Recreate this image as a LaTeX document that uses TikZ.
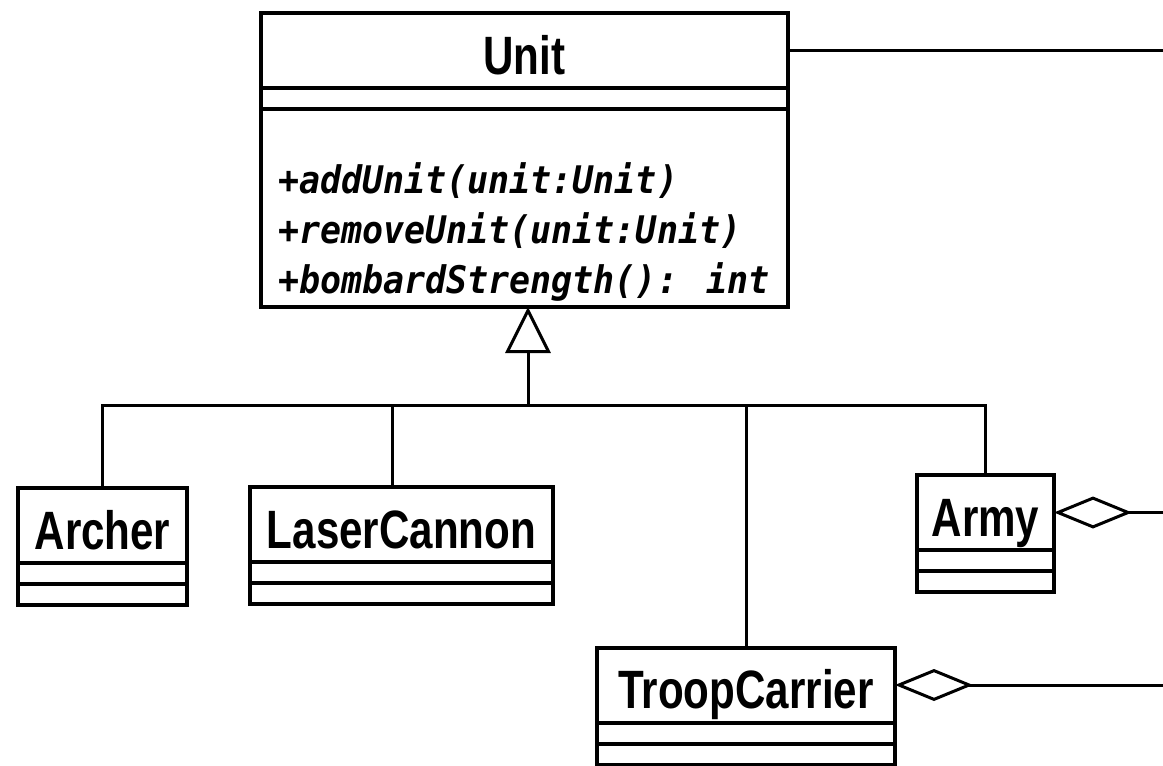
\documentclass[tikz,border=0pt]{standalone}
\usepackage{fontspec}
\usepackage{tikz}
\usetikzlibrary{arrows.meta, positioning}
\newfontfamily\classfont[FakeStretch=0.78]{Liberation Sans}
\newfontfamily\methodfont[FakeStretch=0.92]{DejaVu Sans Mono}
\tikzset{
  classname/.style={rectangle, draw=black, line width=4pt, minimum height=75pt, inner sep=0pt, outer sep=0pt, text height=47pt, text depth=0pt, font=\classfont\bfseries\fontsize{54}{60}\selectfont},
  slot/.style={rectangle, draw=black, line width=4pt, minimum height=21pt, inner sep=0pt, outer sep=0pt},
  ops/.style={inner sep=0pt, anchor=south west, align=left, font=\methodfont\bfseries\itshape\fontsize{38}{50}\selectfont},
  link/.style={line width=3pt},
  inherit/.style={line width=3pt, -{Triangle[open, length=46pt, width=45pt]}},
  aggregate/.style={line width=3pt, -{Diamond[open, length=78pt, width=32pt]}}
}

\begin{document}
\begin{tikzpicture}[x=1pt, y=-1pt]
  \useasboundingbox (0,0) rectangle (1163,766);
  % superclass
  \node[classname, minimum width=527pt] (unit) at (524.5,50.5) {Unit};
  \node[slot, minimum width=527pt, below=0pt of unit] (unitattr) {};
  \node[slot, minimum width=527pt, minimum height=198pt, below=0pt of unitattr] (unitops) {};
  \node[ops] (unitopstext) at (278,302) {+addUnit(unit:Unit)\\+removeUnit(unit:Unit)\\+bombardStrength(): int};
  % subclasses
  \node[classname, minimum width=169pt] (archer) at (102.5,525.5) {Archer};
  \node[slot, minimum width=169pt, below=0pt of archer] (archerattr) {};
  \node[slot, minimum width=169pt, below=0pt of archerattr] (archerops) {};
  \node[classname, minimum width=303pt] (laser) at (401.5,524.5) {LaserCannon};
  \node[slot, minimum width=303pt, below=0pt of laser] (laserattr) {};
  \node[slot, minimum width=303pt, below=0pt of laserattr] (laserops) {};
  \node[classname, minimum width=137pt] (army) at (985.5,512.5) {Army};
  \node[slot, minimum width=137pt, below=0pt of army] (armyattr) {};
  \node[slot, minimum width=137pt, below=0pt of armyattr] (armyops) {};
  \node[classname, minimum width=298pt] (troop) at (746,685) {TroopCarrier};
  \node[slot, minimum width=298pt, below=0pt of troop] (troopattr) {};
  \node[slot, minimum width=298pt, below=0pt of troopattr] (troopops) {};
  % connectors
  \coordinate (hub) at (528,405);
  \coordinate (unitedge) at (1163,50.5);
  \coordinate (armyedge) at (1163,512.5);
  \coordinate (troopedge) at (1163,685);
  \draw[inherit] (hub) -- (hub |- unitops.south);
  \draw[link] (archer.north) |- (hub);
  \draw[link] ([xshift=-9pt]laser.north) |- (hub);
  \draw[link] (troop.north) |- (hub);
  \draw[link] (army.north) |- (hub);
  \draw[link] (unit.east) -- (unitedge);
  \draw[aggregate] (armyedge) -- (army.east);
  \draw[aggregate] (troopedge) -- (troop.east);
\end{tikzpicture}
\end{document}
